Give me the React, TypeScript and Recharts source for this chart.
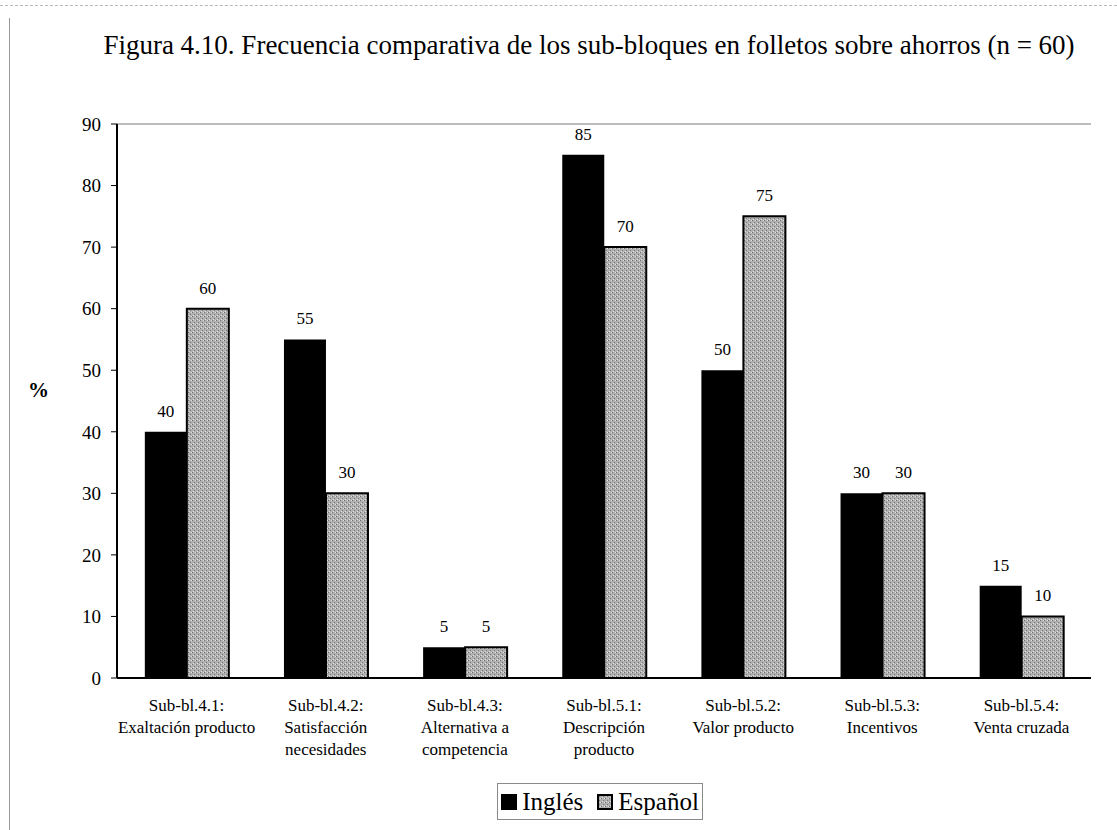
import React from "react";
import { BarChart, Bar, XAxis, YAxis, CartesianGrid, LabelList } from "recharts";

// Sub-block codes and their descriptions (multi-line tick labels)
const categories = ["Sub-bl.4.1", "Sub-bl.4.2", "Sub-bl.4.3", "Sub-bl.5.1", "Sub-bl.5.2", "Sub-bl.5.3", "Sub-bl.5.4"];
const categoryLines = [
  ["Sub-bl.4.1:", "Exaltación producto"],
  ["Sub-bl.4.2:", "Satisfacción", "necesidades"],
  ["Sub-bl.4.3:", "Alternativa a", "competencia"],
  ["Sub-bl.5.1:", "Descripción", "producto"],
  ["Sub-bl.5.2:", "Valor producto"],
  ["Sub-bl.5.3:", "Incentivos"],
  ["Sub-bl.5.4:", "Venta cruzada"],
];

// Percentage of leaflets containing each sub-block
const inglesValues = [40, 55, 5, 85, 50, 30, 15];
const espanolValues = [60, 30, 5, 70, 75, 30, 10];

const yTicks = [0, 10, 20, 30, 40, 50, 60, 70, 80, 90];

const seriesNames = { ingles: "Inglés", espanol: "Español" };

const data = categories.map((c, i) => ({
  name: c,
  ingles: inglesValues[i],
  espanol: espanolValues[i],
}));

const FONT = "'Liberation Serif', 'Times New Roman', serif";

const CategoryTick = (props: any) => {
  const { x, y, index } = props;
  const lines = categoryLines[index] || [];
  return (
    <text x={x} y={y + 33} textAnchor="middle" fontFamily={FONT} fontSize={17} fill="#000">
      {lines.map((l: string, i: number) => (
        <tspan key={i} x={x} dy={i === 0 ? 0 : 22}>
          {l}
        </tspan>
      ))}
    </text>
  );
};

const Swatch = ({ kind }: { kind: "solid" | "dots" }) => (
  <svg width={16} height={16} style={{ display: "block" }}>
    {kind === "solid" ? (
      <rect x={0} y={0} width={16} height={16} fill="#000" />
    ) : (
      <>
        <defs>
          <pattern id="legendDots" width={4} height={4} patternUnits="userSpaceOnUse">
            <rect width={4} height={4} fill="#b0b0b0" />
            <rect x={0} y={0} width={1} height={1} fill="#6e6e6e" />
            <rect x={2} y={2} width={1} height={1} fill="#7a7a7a" />
            <rect x={3} y={0} width={1} height={1} fill="#e0e0e0" />
            <rect x={1} y={3} width={1} height={1} fill="#dcdcdc" />
          </pattern>
        </defs>
        <rect x={1} y={1} width={14} height={14} fill="url(#legendDots)" stroke="#000" strokeWidth={2} />
      </>
    )}
  </svg>
);

export default function App() {
  return (
    <div
      style={{
        position: "absolute",
        left: 0,
        top: 0,
        width: 1117,
        height: 830,
        background: "#fff",
        fontFamily: FONT,
        overflow: "hidden",
      }}
    >
      {/* page frame */}
      <div style={{ position: "absolute", left: 9, top: 18, width: 0, height: 812, borderLeft: "1px solid #9a9a9a" }} />
      <div style={{ position: "absolute", left: 0, top: 5, width: 1117, height: 0, borderTop: "1px dashed #b8b8b8" }} />

      <div
        style={{
          position: "absolute",
          left: 102,
          top: 30,
          width: 974,
          textAlign: "center",
          fontSize: 27,
          lineHeight: "30px",
          color: "#000",
          whiteSpace: "nowrap",
        }}
      >
        Figura 4.10. Frecuencia comparativa de los sub-bloques en folletos sobre ahorros (n = 60)
      </div>

      <div
        style={{
          position: "absolute",
          left: 28,
          top: 378,
          fontSize: 21,
          fontWeight: "bold",
          color: "#000",
        }}
      >
        %
      </div>

      <div style={{ position: "absolute", left: 0, top: 0 }}>
        <BarChart
          width={1117}
          height={830}
          data={data}
          margin={{ top: 124, right: 26, bottom: 62, left: 67 }}
          barCategoryGap="20%"
          barGap={0}
        >
          <defs>
            <pattern id="dots" width={4} height={4} patternUnits="userSpaceOnUse">
              <rect width={4} height={4} fill="#b0b0b0" />
              <rect x={0} y={0} width={1} height={1} fill="#6e6e6e" />
              <rect x={2} y={2} width={1} height={1} fill="#7a7a7a" />
              <rect x={3} y={0} width={1} height={1} fill="#e0e0e0" />
              <rect x={1} y={3} width={1} height={1} fill="#dcdcdc" />
            </pattern>
          </defs>
          <CartesianGrid vertical={false} stroke="#7a7a7a" strokeWidth={1} />
          <XAxis
            dataKey="name"
            height={90}
            axisLine={{ stroke: "#000", strokeWidth: 2 }}
            tickLine={false}
            tickSize={0}
            tickMargin={0}
            tick={<CategoryTick />}
            interval={0}
          />
          <YAxis
            yAxisId="left"
            width={50}
            domain={[0, 90]}
            ticks={yTicks}
            interval={0}
            axisLine={{ stroke: "#000", strokeWidth: 2 }}
            tickLine={{ stroke: "#000" }}
            tickSize={6}
            tickMargin={10}
            tick={{ fill: "#000", fontSize: 19, fontFamily: FONT }}
          />
          <YAxis
            yAxisId="right"
            orientation="right"
            width={0}
            domain={[0, 90]}
            ticks={yTicks}
            tick={false}
            tickLine={false}
            axisLine={{ stroke: "#555", strokeWidth: 1.5, strokeDasharray: "2 1" }}
          />
          <Bar yAxisId="left" dataKey="ingles" name={seriesNames.ingles} fill="#000" isAnimationActive={false}>
            <LabelList dataKey="ingles" position="top" offset={15} fill="#000" fontSize={17} fontFamily={FONT} />
          </Bar>
          <Bar
            yAxisId="left"
            dataKey="espanol"
            name={seriesNames.espanol}
            fill="url(#dots)"
            stroke="#000"
            strokeWidth={2}
            isAnimationActive={false}
          >
            <LabelList dataKey="espanol" position="top" offset={15} fill="#000" fontSize={17} fontFamily={FONT} />
          </Bar>
        </BarChart>
      </div>

      {/* series legend */}
      <div
        style={{
          position: "absolute",
          left: 497,
          top: 783,
          width: 206,
          height: 37,
          boxSizing: "border-box",
          border: "1px solid #8a8a8a",
          display: "flex",
          alignItems: "center",
          justifyContent: "center",
          gap: 5,
          fontSize: 25,
          color: "#000",
        }}
      >
        <Swatch kind="solid" />
        <span style={{ marginRight: 9 }}>{seriesNames.ingles}</span>
        <Swatch kind="dots" />
        <span>{seriesNames.espanol}</span>
      </div>
    </div>
  );
}
